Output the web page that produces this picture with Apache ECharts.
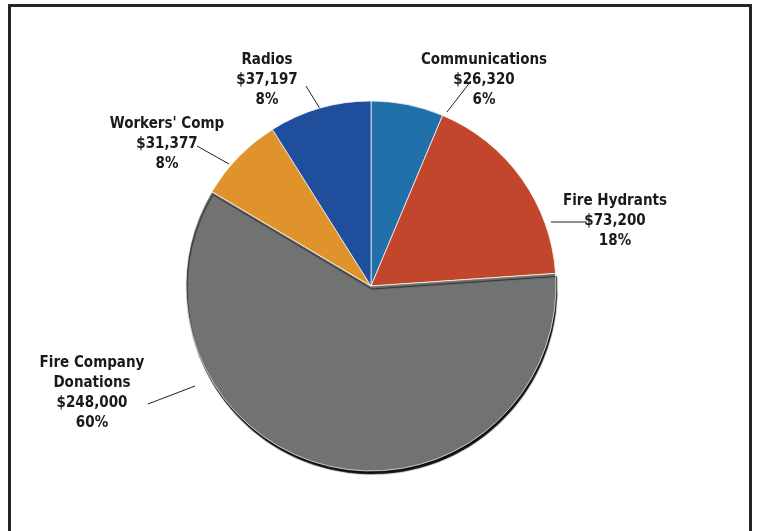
<!DOCTYPE html>
<html>
<head>
<meta charset="utf-8">
<script src="https://cdn.jsdelivr.net/npm/echarts@6/dist/echarts.min.js"></script>
<style>
html,body{margin:0;padding:0;background:#fff;}
#chart{width:758px;height:531px;}
</style>
</head>
<body>
<div id="chart"></div>
<script>
const categories = ['Communications', 'Fire Hydrants', 'Fire Company\nDonations', "Workers' Comp", 'Radios'];
const values = [26320, 73200, 248000, 31377, 37197];
const valueLabels = ['$26,320', '$73,200', '$248,000', '$31,377', '$37,197'];
const percentLabels = ['6%', '18%', '60%', '8%', '8%'];
const colors = ['#2270a9', '#c1462b', '#717272', '#e0922b', '#1f4e9d'];

// label anchor positions (styling only) and leader line endpoints
const labelPos = [
  {x: 484, y: 80, line: [[447, 112], [471, 81]]},
  {x: 615, y: 221, line: [[551, 222], [587, 222]]},
  {x: 92, y: 393, line: [[195, 386], [148, 404]]},
  {x: 167, y: 144, line: [[229, 164], [197, 146]]},
  {x: 267, y: 80, line: [[322, 112], [306, 86]]}
];

const chart = echarts.init(document.getElementById('chart'));
const data = categories.map((c, i) => ({
  name: c,
  value: values[i],
  itemStyle: Object.assign({color: colors[i]}, i === 2 ? {
    shadowColor: 'rgba(0,0,0,0.95)', shadowBlur: 1, shadowOffsetY: 3, shadowOffsetX: 1
  } : {})
}));

chart.setOption({
  animation: false,
  graphic: [{
    type: 'rect',
    shape: {x: 9.5, y: 5.5, width: 741, height: 560},
    style: {fill: 'none', stroke: '#262626', lineWidth: 3},
    z: 100
  }],
  series: [{
    type: 'pie',
    center: [371, 286],
    radius: 185,
    startAngle: 90,
    clockwise: true,
    data: data,
    itemStyle: {borderColor: 'rgba(255,255,255,0.7)', borderWidth: 1},
    emphasis: {disabled: true},
    label: {
      show: true,
      position: 'outside',
      formatter: p => p.name + '\n' + valueLabels[p.dataIndex] + '\n' + percentLabels[p.dataIndex],
      fontFamily: '"DejaVu Sans Condensed", "Liberation Sans Narrow", sans-serif',
      fontWeight: 'bold',
      fontSize: 15,
      lineHeight: 20,
      color: '#1a1a1a',
      align: 'center'
    },
    labelLine: {show: true, lineStyle: {color: '#222', width: 1}},
    labelLayout: function (params) {
      const lp = labelPos[params.dataIndex];
      return {
        x: lp.x,
        y: lp.y,
        align: 'center',
        verticalAlign: 'middle',
        labelLinePoints: [lp.line[0], lp.line[0], lp.line[1]]
      };
    }
  }]
});
</script>
</body>
</html>
